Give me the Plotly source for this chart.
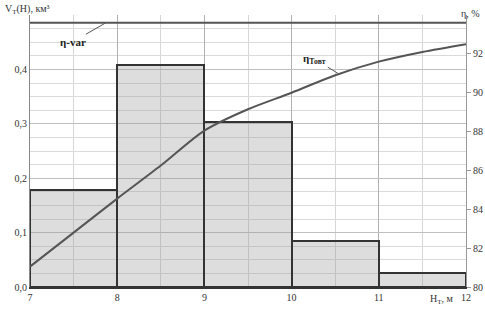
import plotly.graph_objects as go

# Histogram of volumes by depth interval
bin_left = [7, 8, 9, 10, 11]
volume = [0.178, 0.408, 0.304, 0.085, 0.025]

# Efficiency curve eta_Tovt (%)
h_curve = [7, 7.5, 8, 8.5, 9, 9.5, 10, 10.5, 11, 11.5, 12]
eta_curve = [81.05, 82.8, 84.55, 86.25, 88.05, 89.15, 90.0, 90.9, 91.6, 92.1, 92.5]

# eta-var level (%)
eta_var_x = [7, 12]
eta_var = [93.6, 93.6]

left_ticks = [0, 0.1, 0.2, 0.3, 0.4]
right_ticks = [80, 82, 84, 86, 88, 90, 92]
x_ticks = [7, 8, 9, 10, 11, 12]

FONT = "Liberation Serif"

fig = go.Figure()
fig.add_trace(go.Bar(
    x=bin_left, y=volume, width=[1] * len(bin_left), offset=0,
    marker=dict(color="rgba(150,150,150,0.32)", line=dict(color="#333333", width=2)),
    showlegend=False, hoverinfo="skip",
))
fig.add_trace(go.Scatter(
    x=h_curve, y=eta_curve, yaxis="y2", mode="lines",
    line=dict(color="#555555", width=2, shape="spline", smoothing=0.8),
    showlegend=False,
))
fig.add_trace(go.Scatter(
    x=eta_var_x, y=eta_var, yaxis="y2", mode="lines",
    line=dict(color="#555555", width=2),
    showlegend=False,
))

fig.update_layout(
    width=485, height=309,
    margin=dict(l=30, r=19, t=15, b=22, autoexpand=False),
    paper_bgcolor="white", plot_bgcolor="white",
    separators=", ",
    font=dict(family=FONT, size=10, color="#333333"),
    bargap=0,
    xaxis=dict(
        range=[7, 12], tickvals=x_ticks, ticktext=[str(v) for v in x_ticks],
        showgrid=True, gridcolor="#b0b0b0", gridwidth=1,
        minor=dict(tickmode="linear", tick0=7, dtick=0.5, showgrid=True, gridcolor="#d6d6d6", gridwidth=1),
        showline=True, linecolor="#333333", linewidth=2,
        ticks="", zeroline=False, tickfont=dict(size=10), automargin=False,
    ),
    yaxis=dict(
        range=[0, 0.5], tickvals=left_ticks, tickformat=".1f",
        showgrid=True, gridcolor="#bfbfbf", gridwidth=1,
        minor=dict(tickmode="linear", tick0=0, dtick=0.025, showgrid=True, gridcolor="#dadada", gridwidth=1),
        showline=True, linecolor="#888888", linewidth=1,
        ticks="", zeroline=False, tickfont=dict(size=10), automargin=False,
    ),
    yaxis2=dict(
        overlaying="y", side="right", range=[80, 94], tickvals=right_ticks,
        showgrid=False, showline=True, linecolor="#999999", linewidth=1,
        ticks="outside", ticklen=4, tickcolor="#999999", zeroline=False,
        tickfont=dict(size=10), automargin=False,
    ),
    annotations=[
        dict(text="V<sub>Т</sub>(H), км³", xref="paper", yref="paper", x=-0.062, y=1.02,
             xanchor="left", yanchor="middle", showarrow=False, font=dict(size=10)),
        dict(text="η, %", xref="paper", yref="paper", x=1.037, y=1.005,
             xanchor="right", yanchor="middle", showarrow=False, font=dict(size=10)),
        dict(text="H<sub>Т</sub>, м", xref="paper", yref="paper", x=0.978, y=-0.045,
             xanchor="right", yanchor="middle", showarrow=False, font=dict(size=10)),
        dict(text="<b>η-var</b>", x=7.87, y=93.6, xref="x", yref="y2",
             ax=-33, ay=19, showarrow=True, arrowhead=0, arrowwidth=1, arrowcolor="#555555",
             font=dict(size=11, color="#222222")),
        dict(text="<b>η<sub>Товт</sub></b>", x=10.53, y=91.0, xref="x", yref="y2",
             ax=-23, ay=-14, showarrow=True, arrowhead=0, arrowwidth=1, arrowcolor="#555555",
             font=dict(size=11, color="#222222")),
    ],
)

fig.write_html("out.html", config={"displayModeBar": False},
               post_script="document.body.style.margin='0';document.body.style.overflow='hidden';")
